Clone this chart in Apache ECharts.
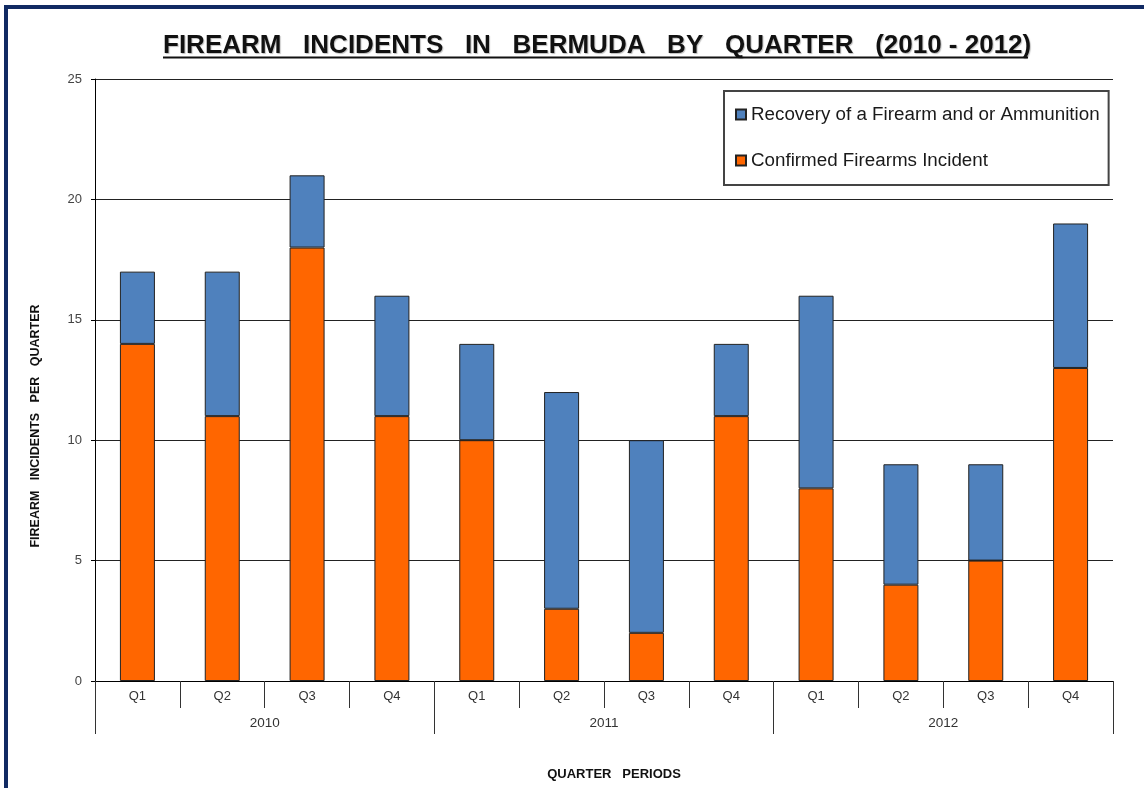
<!DOCTYPE html>
<html>
<head>
<meta charset="utf-8">
<script src="https://cdn.jsdelivr.net/npm/echarts@6/dist/echarts.min.js"></script>
<style>
  html, body { margin: 0; padding: 0; background: #fff; }
  #frame {
    position: absolute; left: 4px; top: 5px; width: 1160px; height: 800px;
    border-left: 4px solid #112a63; border-top: 4px solid #112a63;
  }
  #chart { position: absolute; left: 0; top: 0; width: 1144px; height: 788px; }
</style>
</head>
<body>
<div id="frame"></div>
<div id="chart"></div>
<script>
const quarters = ['Q1', 'Q2', 'Q3', 'Q4', 'Q1', 'Q2', 'Q3', 'Q4', 'Q1', 'Q2', 'Q3', 'Q4']
const years = ['2010', '2011', '2012']
const confirmed = [14, 11, 18, 11, 10, 3, 2, 11, 8, 4, 5, 13]
const recovery = [3, 6, 3, 5, 4, 9, 8, 3, 8, 5, 4, 6]
const yTicks = [0, 5, 10, 15, 20, 25]

const font = '"Liberation Sans", Arial, sans-serif'
const chart = echarts.init(document.getElementById('chart'))

chart.setOption({
  animation: false,
  textStyle: { fontFamily: font },
  title: {
    text: 'FIREARM   INCIDENTS   IN   BERMUDA   BY   QUARTER   (2010 - 2012)',
    left: 158,
    top: 28,
    textStyle: {
      fontSize: 26, fontWeight: 'bold', color: '#111', fontFamily: font,
      textShadowColor: 'rgba(0,0,0,0.25)', textShadowOffsetX: 1, textShadowOffsetY: 1, textShadowBlur: 1,
    },
  },
  graphic: [{
    type: 'line',
    shape: { x1: 163, y1: 57.5, x2: 1028, y2: 57.5 },
    style: { stroke: '#111', lineWidth: 2 },
  }],
  legend: {
    orient: 'vertical',
    left: 724,
    top: 91,
    data: ['Recovery of a Firearm and or Ammunition', 'Confirmed Firearms Incident'],
    backgroundColor: '#fff',
    borderColor: '#444',
    borderWidth: 2,
    padding: [14, 9, 15, 11],
    itemGap: 27,
    itemWidth: 10,
    itemHeight: 10,
    icon: 'rect',
    textStyle: { fontSize: 18.8, color: '#1a1a1a', fontFamily: font },
  },
  grid: { left: 95, right: 31, top: 79, bottom: 107 },
  xAxis: [{
    type: 'category',
    data: quarters,
    position: 'bottom',
    axisLine: { lineStyle: { color: '#000', width: 1 } },
    axisTick: { show: true, length: 27, lineStyle: { color: '#333' } },
    axisLabel: { margin: 9, fontSize: 13, color: '#333', fontFamily: font },
  }, {
    type: 'category',
    data: years,
    position: 'bottom',
    axisLine: { show: false },
    axisTick: { show: true, length: 53, lineStyle: { color: '#333' } },
    axisLabel: { margin: 35, fontSize: 13.5, color: '#333', fontFamily: font },
    name: 'QUARTER   PERIODS',
    nameLocation: 'middle',
    nameGap: 87,
    nameTextStyle: { fontSize: 13, fontWeight: 'bold', color: '#111', padding: [0, 0, 0, 20] },
  }],
  yAxis: {
    type: 'value',
    min: yTicks[0],
    max: yTicks[yTicks.length - 1],
    interval: 5,
    name: 'FIREARM   INCIDENTS   PER   QUARTER',
    nameLocation: 'middle',
    nameGap: 53,
    nameTextStyle: { fontSize: 12.5, fontWeight: 'bold', color: '#111', padding: [0, 92, 0, 0] },
    axisLine: { show: true, lineStyle: { color: '#000' } },
    axisTick: { show: true, length: 4, lineStyle: { color: '#000' } },
    axisLabel: { margin: 13, fontSize: 13, color: '#444', fontFamily: font },
    splitLine: { lineStyle: { color: '#222', width: 1 } },
  },
  series: [{
    name: 'Confirmed Firearms Incident',
    type: 'bar',
    stack: 'total',
    data: confirmed,
    barWidth: 35,
    itemStyle: { color: '#ff6600', borderColor: '#222', borderWidth: 1 },
  }, {
    name: 'Recovery of a Firearm and or Ammunition',
    type: 'bar',
    stack: 'total',
    data: recovery,
    barWidth: 35,
    itemStyle: { color: '#4f81bd', borderColor: '#222', borderWidth: 1 },
  }],
})
</script>
</body>
</html>
